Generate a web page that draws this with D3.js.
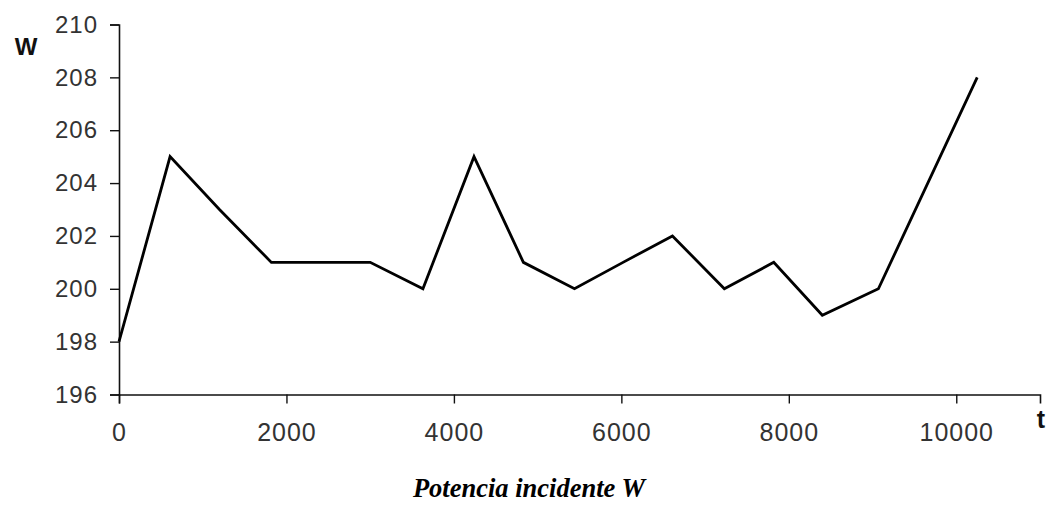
<!DOCTYPE html>
<html>
<head>
<meta charset="utf-8">
<script src="https://cdn.jsdelivr.net/npm/d3@7/dist/d3.min.js"></script>
<style>
  html, body { margin: 0; padding: 0; background: #fff; }
  svg { display: block; }
  .tick text { font-family: "Liberation Sans", Arial, sans-serif; fill: #333; }
</style>
</head>
<body>
<svg id="chart" width="1052" height="508"></svg>
<script>
// Data
const times  = [0, 610, 1200, 1820, 2400, 3000, 3630, 4240, 4830, 5440, 6020, 6610, 7230, 7820, 8400, 9070, 10250];
const powers = [198, 205, 203, 201, 201, 201, 200, 205, 201, 200, 201, 202, 200, 201, 199, 200, 208];
const xTicks = [0, 2000, 4000, 6000, 8000, 10000];
const yTicks = [196, 198, 200, 202, 204, 206, 208, 210];
const yLabel = "W";
const xLabel = "t";
const caption = "Potencia incidente W";

const svg = d3.select("#chart");

const x = d3.scaleLinear().domain([0, 11000]).range([119, 1040]);
const y = d3.scaleLinear().domain([196, 210]).range([394.5, 24.5]);

// Y axis
const gy = svg.append("g")
  .attr("transform", `translate(${x(0)},0)`)
  .call(d3.axisLeft(y).tickValues(yTicks).tickSizeOuter(0).tickSize(9).tickPadding(12).tickFormat(d3.format("d")));
gy.select(".domain").attr("stroke", "#111").attr("stroke-width", 1.6);
gy.selectAll(".tick line").attr("stroke", "#111").attr("stroke-width", 1.4);
gy.selectAll(".tick text").attr("font-size", 24).attr("letter-spacing", 1);

// X axis
const gx = svg.append("g")
  .attr("transform", `translate(0,${y(196)})`)
  .call(d3.axisBottom(x).tickValues(xTicks).tickSizeOuter(0).tickSize(9).tickPadding(20).tickFormat(d3.format("d")));
gx.select(".domain").attr("stroke", "#111").attr("stroke-width", 1.6);
gx.selectAll(".tick line").attr("stroke", "#111").attr("stroke-width", 1.4);
gx.selectAll(".tick text").attr("font-size", 25).attr("letter-spacing", 1);

// Line
const data = times.map((t, i) => ({ t, p: powers[i] }));
svg.append("path")
  .datum(data)
  .attr("fill", "none")
  .attr("stroke", "#000")
  .attr("stroke-width", 2.8)
  .attr("stroke-linejoin", "miter")
  .attr("d", d3.line().x(d => x(d.t)).y(d => y(d.p)));

// Axis labels
svg.append("text")
  .attr("x", 26).attr("y", 55)
  .attr("text-anchor", "middle")
  .attr("font-family", "Liberation Sans, Arial, sans-serif")
  .attr("font-weight", "bold")
  .attr("font-size", 24)
  .attr("fill", "#111")
  .text(yLabel);

svg.append("text")
  .attr("x", 1041).attr("y", 428)
  .attr("text-anchor", "middle")
  .attr("font-family", "Liberation Sans, Arial, sans-serif")
  .attr("font-weight", "bold")
  .attr("font-size", 25)
  .attr("fill", "#111")
  .text(xLabel);

// Caption
svg.append("text")
  .attr("x", 529).attr("y", 497)
  .attr("text-anchor", "middle")
  .attr("font-family", "Liberation Serif, 'Times New Roman', serif")
  .attr("font-weight", "bold")
  .attr("font-style", "italic")
  .attr("font-size", 26.5)
  .attr("fill", "#000")
  .text(caption);
</script>
</body>
</html>
